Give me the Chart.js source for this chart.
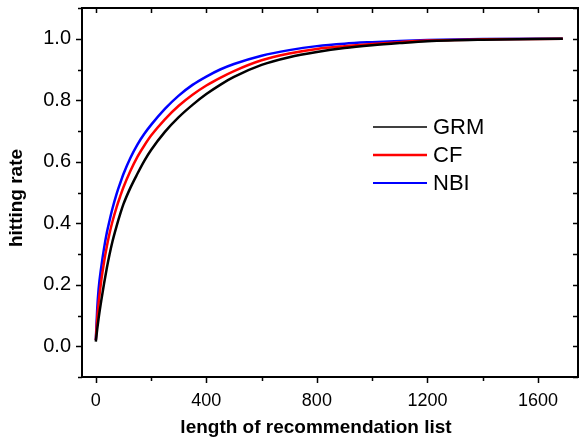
<!DOCTYPE html>
<html><head><meta charset="utf-8">
<script src="https://cdn.jsdelivr.net/npm/chart.js@4.4.0/dist/chart.umd.min.js"></script>
<style>html,body{margin:0;padding:0;background:#fff;}#wrap{width:579px;height:439px;}</style>
</head><body><div id="wrap"><canvas id="c" width="579" height="439"></canvas></div>
<script>
const listLength = [0, 5, 10, 20, 30, 40, 50, 60, 75, 90, 100, 125, 150, 175, 200, 250, 300, 350, 400, 450, 500, 600, 700, 800, 900, 1000, 1100, 1200, 1400, 1690];
const grmRate = [0.015, 0.055, 0.09, 0.15, 0.205, 0.255, 0.30, 0.34, 0.39, 0.435, 0.462, 0.515, 0.56, 0.602, 0.638, 0.697, 0.745, 0.785, 0.82, 0.85, 0.876, 0.915, 0.94, 0.957, 0.97, 0.979, 0.986, 0.992, 0.997, 1.0];
const cfRate  = [0.02, 0.09, 0.14, 0.215, 0.275, 0.325, 0.368, 0.405, 0.452, 0.492, 0.517, 0.57, 0.615, 0.652, 0.685, 0.738, 0.782, 0.818, 0.848, 0.873, 0.895, 0.93, 0.952, 0.967, 0.976, 0.983, 0.989, 0.994, 0.998, 1.0];
const nbiRate = [0.02, 0.12, 0.185, 0.26, 0.32, 0.37, 0.41, 0.447, 0.495, 0.535, 0.56, 0.612, 0.655, 0.69, 0.72, 0.772, 0.815, 0.85, 0.877, 0.90, 0.918, 0.945, 0.963, 0.976, 0.984, 0.989, 0.993, 0.996, 0.999, 1.0];
const seriesNames = ['GRM', 'CF', 'NBI'];
const xTicks = [0, 200, 400, 600, 800, 1000, 1200, 1400, 1600];
const xLabelTicks = [0, 400, 800, 1200, 1600];
const yTicks = [-0.1, 0, 0.1, 0.2, 0.3, 0.4, 0.5, 0.6, 0.7, 0.8, 0.9, 1.0, 1.1];
const yLabelTicks = [0, 0.2, 0.4, 0.6, 0.8, 1.0];
const xTitle = 'length of recommendation list';
const yTitle = 'hitting rate';

const colors = ['#000000', '#ff0000', '#0000ff'];
const pts = (ys) => listLength.map((x, i) => ({x: x, y: ys[i]}));
const FONT = '"Liberation Sans", Arial, sans-serif';

const framePlugin = {
  id: 'frame',
  afterDraw(chart) {
    const ctx = chart.ctx, a = chart.chartArea;
    const xs = chart.scales.x, ys = chart.scales.y;
    ctx.save();
    ctx.strokeStyle = '#000';
    ctx.lineWidth = 2;
    ctx.strokeRect(a.left, a.top, a.right - a.left, a.bottom - a.top);
    ctx.lineWidth = 1.5;
    ctx.beginPath();
    xTicks.forEach(v => {
      const p = Math.round(xs.getPixelForValue(v)) + 0.5;
      const major = xLabelTicks.includes(v);
      ctx.moveTo(p, a.bottom); ctx.lineTo(p, a.bottom + (major ? 6 : 4));
      ctx.moveTo(p, a.top); ctx.lineTo(p, a.top + 5);
    });
    yTicks.forEach(v => {
      const p = Math.round(ys.getPixelForValue(v)) + 0.5;
      const major = yLabelTicks.some(t => Math.abs(t - v) < 1e-6);
      ctx.moveTo(a.left, p); ctx.lineTo(a.left - (major ? 6 : 4), p);
      ctx.moveTo(a.right, p); ctx.lineTo(a.right - 5, p);
    });
    ctx.stroke();
    // axis titles
    ctx.fillStyle = '#000';
    ctx.font = 'bold 19px ' + FONT;
    ctx.textAlign = 'center';
    ctx.textBaseline = 'middle';
    ctx.fillText(xTitle, 316, 428);
    ctx.translate(17, 198);
    ctx.rotate(-Math.PI / 2);
    ctx.fillText(yTitle, 0, 0);
    ctx.restore();
    // legend
    ctx.save();
    ctx.font = '22px ' + FONT;
    ctx.textBaseline = 'middle';
    ctx.textAlign = 'left';
    const lw = [1.6, 2.6, 2.2];
    chart.data.datasets.forEach((ds, i) => {
      const y = 127 + i * 28;
      ctx.strokeStyle = ds.borderColor;
      ctx.lineWidth = lw[i];
      ctx.beginPath(); ctx.moveTo(373, y); ctx.lineTo(427, y); ctx.stroke();
      ctx.fillStyle = '#000';
      ctx.fillText(ds.label, 433, y + 1);
    });
    ctx.restore();
  }
};

new Chart(document.getElementById('c'), {
  type: 'line',
  data: {
    datasets: [
      {label: seriesNames[0], data: pts(grmRate), borderColor: colors[0], borderWidth: 2.5, pointRadius: 0, cubicInterpolationMode: 'monotone', fill: false},
      {label: seriesNames[1], data: pts(cfRate), borderColor: colors[1], borderWidth: 2.5, pointRadius: 0, cubicInterpolationMode: 'monotone', fill: false},
      {label: seriesNames[2], data: pts(nbiRate), borderColor: colors[2], borderWidth: 2.5, pointRadius: 0, cubicInterpolationMode: 'monotone', fill: false}
    ]
  },
  options: {
    responsive: false,
    animation: false,
    layout: {padding: {top: 8, right: 1, left: 0, bottom: 0}},
    plugins: {legend: {display: false}, tooltip: {enabled: false}},
    scales: {
      x: {
        type: 'linear', min: -50, max: 1745,
        afterBuildTicks: (s) => { s.ticks = xLabelTicks.map(v => ({value: v})); },
        afterFit: (s) => { s.height = 62; s.paddingLeft = 0; s.paddingRight = 0; },
        grid: {display: false, drawTicks: false},
        border: {display: false},
        ticks: {color: '#000', font: {family: FONT, size: 18}, padding: 13, maxRotation: 0, autoSkip: false, callback: (v) => String(v)}
      },
      y: {
        type: 'linear', min: -0.1, max: 1.1,
        afterBuildTicks: (s) => { s.ticks = yLabelTicks.map(v => ({value: v})); },
        afterFit: (s) => { s.width = 82; s.paddingTop = 0; s.paddingBottom = 0; },
        grid: {display: false, drawTicks: false},
        border: {display: false},
        ticks: {color: '#000', font: {family: FONT, size: 20}, padding: 11, autoSkip: false, callback: (v) => Number(v).toFixed(1)}
      }
    }
  },
  plugins: [framePlugin]
});
</script></body></html>
